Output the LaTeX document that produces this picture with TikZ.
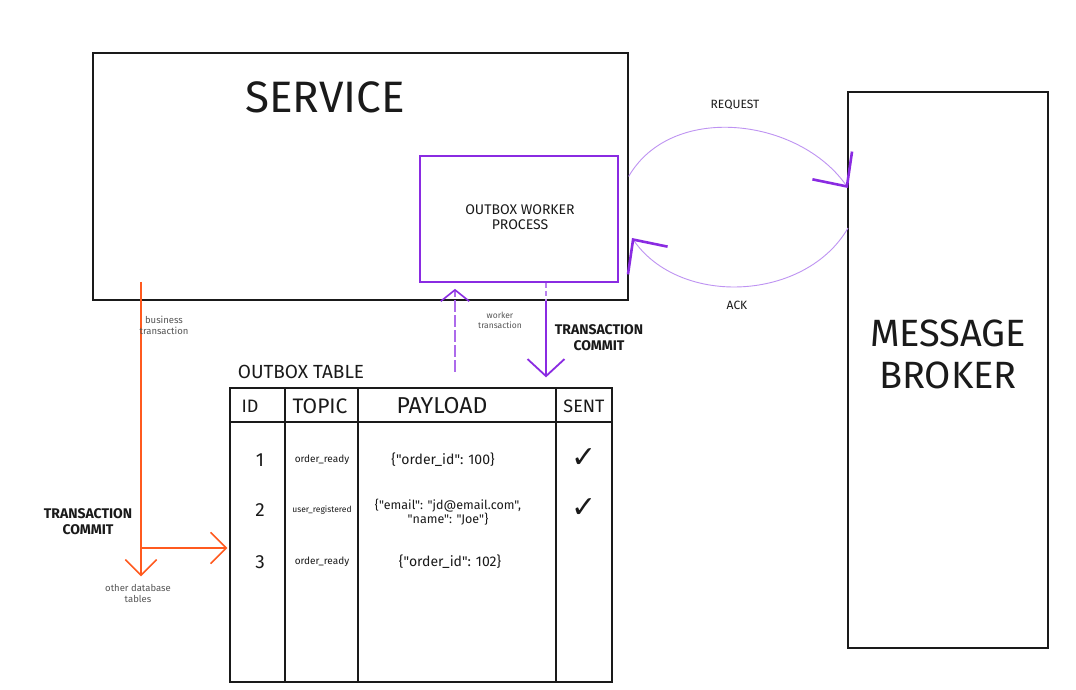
\documentclass[tikz,border=0pt]{standalone}
\usepackage{fontspec}
\setmainfont{Fira Sans}[Ligatures=TeXOff]
\newfontfamily\obxsym{DejaVu Sans}
\usetikzlibrary{arrows.meta}
\definecolor{obxInk}{HTML}{1A1A1A}
\definecolor{obxViolet}{HTML}{8A2BE2}
\definecolor{obxLilac}{HTML}{BE93F2}
\definecolor{obxOrange}{HTML}{FF5A1F}
\definecolor{obxGray}{HTML}{555555}
\tikzset{
  obx box/.style={draw=obxInk, line width=1.3pt, inner sep=0pt},
  obx rule/.style={draw=obxInk, line width=1.1pt},
  obx worker/.style={draw=obxViolet, line width=1.8pt, inner sep=0pt},
  obx title/.style={font=\fontsize{44}{48}\selectfont, text=obxInk, align=center},
  obx label/.style={font=\fontsize{14}{15}\selectfont, text=obxInk, align=center},
  obx head/.style={font=\fontsize{21}{22}\selectfont, text=obxInk},
  obx cell/.style={font=\fontsize{14}{13}\selectfont, text=obxInk, align=center},
  obx note/.style={font=\fontsize{8.5}{10}\selectfont, text=obxGray, align=center},
  obx commit/.style={font=\bfseries\fontsize{14}{16}\selectfont, text=obxInk, align=center},
  obx arc/.style={draw=obxLilac, line width=0.9pt,
    -{Straight Barb[length=9mm, width=17mm, line width=2.6pt, color=obxViolet]}},
  obx down/.style={draw=obxViolet, line width=1.6pt,
    -{Straight Barb[length=6mm, width=13mm, line width=1.8pt]}},
  obx up/.style={draw=obxViolet!70, line width=1.2pt, dash pattern=on 12pt off 3pt,
    -{Straight Barb[length=4mm, width=10mm, line width=1.6pt, color=obxViolet]}},
  obx flow/.style={draw=obxOrange, line width=1.1pt,
    -{Straight Barb[length=5.5mm, width=11mm, line width=1.5pt]}},
}

\begin{document}
\begin{tikzpicture}[x=1pt,y=1pt]
  \path[use as bounding box, fill=white] (0,0) rectangle (1076,690);
  % service and worker
  \node[obx box, minimum width=535pt, minimum height=247pt] (service) at (360.5,513.5) {};
  \node[obx title] (servicename) at (325,593) {SERVICE};
  \node[obx worker, minimum width=198pt, minimum height=126pt] (worker) at (519,471) {};
  \node[obx label] (workername) at (520,473) {OUTBOX WORKER\\PROCESS};
  % message broker
  \node[obx box, minimum width=200pt, minimum height=556pt] (broker) at (948,320) {};
  \node[obx title, font=\fontsize{38}{42}\selectfont] (brokername) at (948,336) {MESSAGE\\BROKER};
  % request / ack loop
  \coordinate (reqEnd) at (848,502);
  \coordinate (ackStart) at (848,462);
  \coordinate (ackEnd) at (632,452);
  \draw[obx arc] (service.east) to[out=60, in=125] (reqEnd);
  \draw[obx arc] (ackStart) to[out=-120, in=-55] (ackEnd);
  \node[obx label, font=\fontsize{12}{13}\selectfont] (request) at (735,585) {REQUEST};
  \node[obx label, font=\fontsize{12}{13}\selectfont] (ack) at (737,385) {ACK};
  % outbox table
  \node[obx box, minimum width=382pt, minimum height=294pt] (outbox) at (421,155) {};
  \node[obx label, font=\fontsize{19}{20}\selectfont] (tablename) at (301,318) {OUTBOX TABLE};
  \draw[obx rule] (outbox.west |- 0,268) -- (outbox.east |- 0,268);
  \foreach \cx in {285,358,556}
    \draw[obx rule] (outbox.north -| \cx,0) -- (outbox.south -| \cx,0);
  \node[obx head, font=\fontsize{18}{20}\selectfont] (hid) at (250,284) {ID};
  \node[obx head] (htopic) at (320,284) {TOPIC};
  \node[obx head, font=\fontsize{23}{24}\selectfont] (hpayload) at (442,284) {PAYLOAD};
  \node[obx head, font=\fontsize{18}{20}\selectfont] (hsent) at (584,284) {SENT};
  % rows
  \foreach \id/\ry in {1/230,2/180,3/128}
    \node[obx head, font=\fontsize{19}{20}\selectfont] (id-\id) at (260,\ry) {\id};
  \node[obx cell, font=\fontsize{10}{11}\selectfont] (topic-1) at (322,230) {order\_ready};
  \node[obx cell, font=\fontsize{8.5}{9}\selectfont] (topic-2) at (322,180) {user\_registered};
  \node[obx cell, font=\fontsize{10}{11}\selectfont] (topic-3) at (322,128) {order\_ready};
  \node[obx cell] (payload-1) at (443,230) {\{"order\_id": 100\}};
  \node[obx cell, font=\fontsize{12.5}{13}\selectfont] (payload-2) at (448,178) {\{"email": "jd@email.com",\\"name": "Joe"\}};
  \node[obx cell] (payload-3) at (450,128) {\{"order\_id": 102\}};
  \foreach \id/\ry in {1/232,2/182}
    \node[obx cell, font=\obxsym\fontsize{30}{30}\selectfont] (sent-\id) at (584,\ry) {✓};
  % worker transaction and commit
  \coordinate (wtFoot) at (455,318);
  \draw[obx up, shorten >=6pt] (wtFoot) -- (wtFoot |- worker.south);
  \node[obx note] (wtnote) at (500,370) {worker\\transaction};
  \draw[draw=obxViolet!60, line width=1.2pt, dash pattern=on 5pt off 3pt]
    (worker.south -| 546,0) -- (service.south -| 546,0);
  \draw[obx down, shorten >=10pt] (service.south -| 546,0) -- (outbox.north -| 546,0);
  \node[obx commit] (wcommit) at (599,352) {TRANSACTION\\COMMIT};
  % business transaction
  \coordinate (bizStart) at (141,408);
  \coordinate (bizFork) at (141,142);
  \node[obx note, font=\fontsize{9.5}{11}\selectfont] (otherdb) at (138,97) {other database\\tables};
  \draw[obx flow, shorten >=4pt] (bizStart) -- (bizStart |- otherdb.north);
  \draw[obx flow, shorten >=2pt] (bizFork) -- (outbox.west |- bizFork);
  \node[obx note, font=\fontsize{9.5}{11}\selectfont] (biznote) at (164,365) {business\\transaction};
  \node[obx commit] (bcommit) at (88,168) {TRANSACTION\\COMMIT};
\end{tikzpicture}
\end{document}
